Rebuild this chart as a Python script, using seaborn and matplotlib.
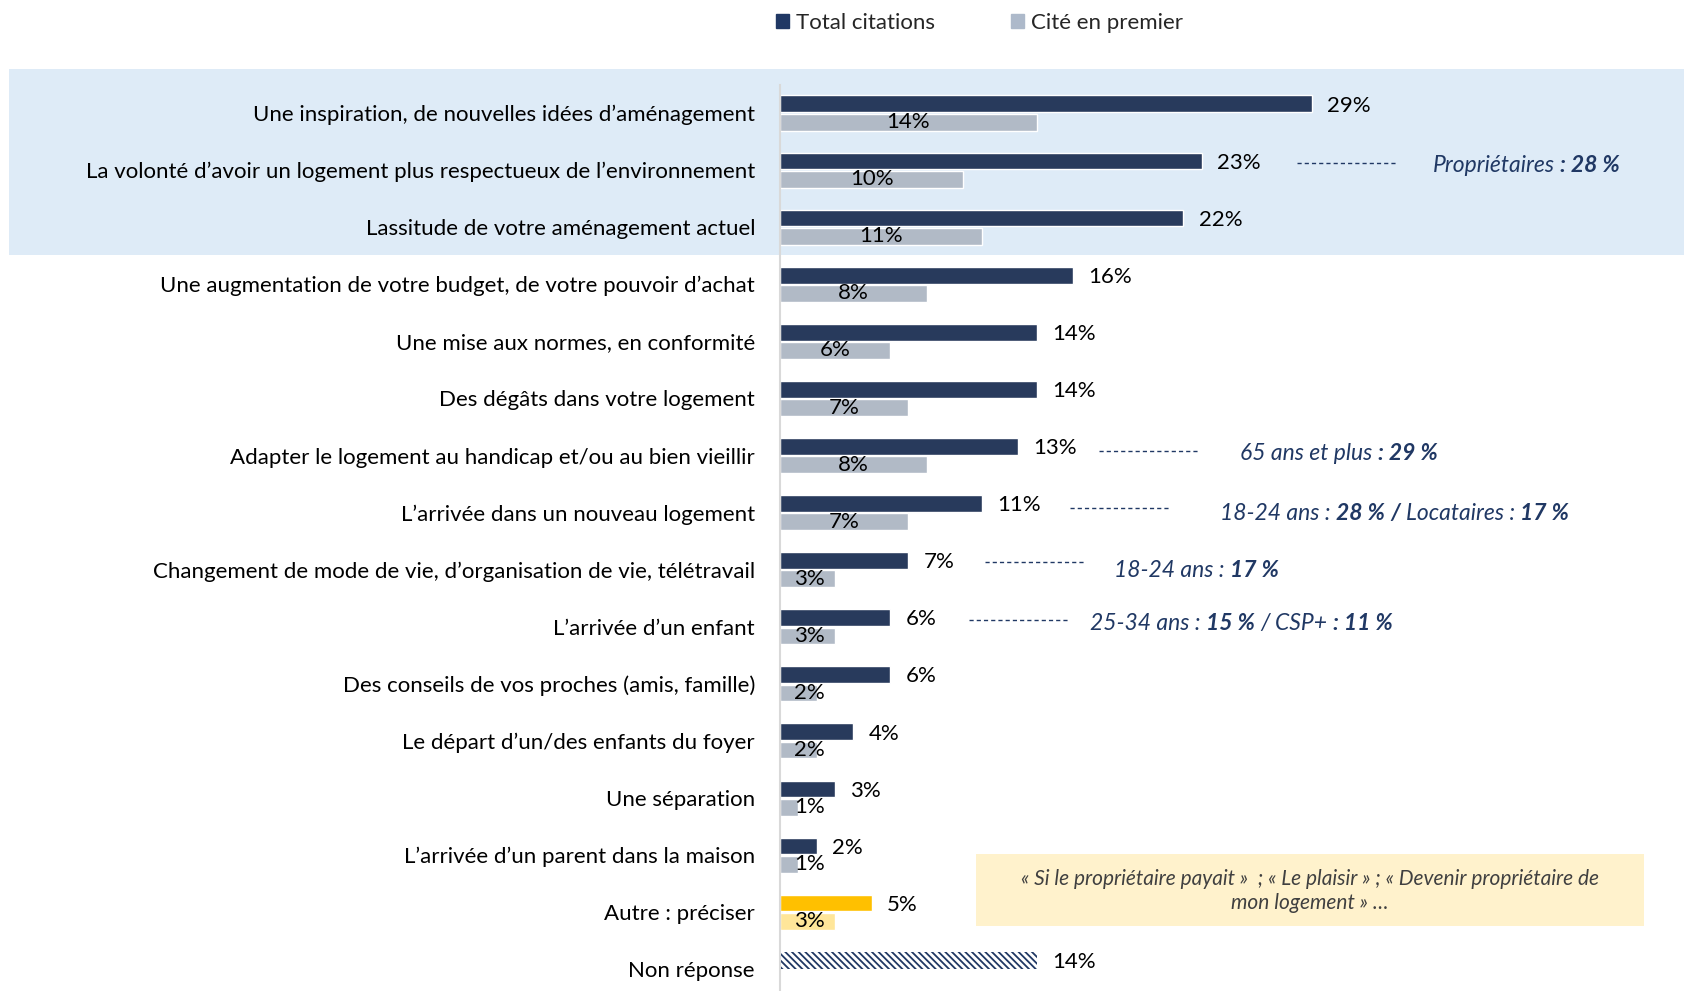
import numpy as np
import pandas as pd
import matplotlib.pyplot as plt
from matplotlib.patches import Rectangle
import seaborn as sns

categories = [
    "Une inspiration, de nouvelles idées d’aménagement",
    "La volonté d’avoir un logement plus respectueux de l’environnement",
    "Lassitude de votre aménagement actuel",
    "Une augmentation de votre budget, de votre pouvoir d’achat",
    "Une mise aux normes, en conformité",
    "Des dégâts dans votre logement",
    "Adapter le logement au handicap et/ou au bien vieillir",
    "L’arrivée dans un nouveau logement",
    "Changement de mode de vie, d’organisation de vie, télétravail",
    "L’arrivée d’un enfant",
    "Des conseils de vos proches (amis, famille)",
    "Le départ d’un/des enfants du foyer",
    "Une séparation",
    "L’arrivée d’un parent dans la maison",
    "Autre : préciser",
    "Non réponse",
]
total = [29, 23, 22, 16, 14, 14, 13, 11, 7, 6, 6, 4, 3, 2, 5, 14]
first = [14, 10, 11, 8, 6, 7, 8, 7, 3, 3, 2, 2, 1, 1, 3, np.nan]
series = ["Total citations", "Cité en premier"]

# sub-group call-outs: row -> list of (text, bold)
callouts = {
    1: [("Propriétaires", False), (": 28 %", True)],
    6: [("65 ans et plus", False), (": 29 %", True)],
    7: [("18-24 ans :", False), ("28 %", True), ("/", True), ("Locataires :", False), ("17 %", True)],
    8: [("18-24 ans :", False), ("17 %", True)],
    9: [("25-34 ans :", False), ("15 %", True), ("/ CSP+", False), (": 11 %", True)],
}
# placement of call-outs (x in %, y offset in rows)
callout_dash_x = {1: 28.2, 6: 17.4, 7: 15.8, 8: 11.2, 9: 10.3}
callout_dash_dy = {1: -0.13, 6: -0.08, 7: -0.08, 8: -0.13, 9: -0.11}
callout_text_x = {1: 35.6, 6: 25.1, 7: 24.0, 8: 18.2, 9: 16.9}
callout_text_dy = {1: -0.08, 6: -0.04, 7: 0.01, 8: 0.01, 9: -0.06}
quote = "« Si le propriétaire payait »  ; « Le plaisir » ; « Devenir propriétaire de\nmon logement » …"

NAVY = "#203864"
GREY = "#ADB9CA"
FS = 16

df = pd.DataFrame({
    "cat": categories * 2,
    "serie": [series[0]] * len(categories) + [series[1]] * len(categories),
    "val": total + first,
}).dropna()

sns.set_theme(style="white")
plt.rcParams["font.family"] = ["Lato", "DejaVu Sans"]
plt.rcParams["hatch.linewidth"] = 1.3

fig = plt.figure(figsize=(16.84, 9.91), dpi=100)
ax = fig.add_axes([780 / 1684, 0, 1 - 780 / 1684, 1 - 85 / 991])
ax.set_facecolor("none")

# highlighted top-3 band
fig.patches.append(Rectangle((9 / 1684, 1 - 255 / 991), 1, (255 - 69) / 991,
                             transform=fig.transFigure, facecolor="#DEEBF7",
                             edgecolor="none", zorder=-5))

sns.barplot(data=df, y="cat", x="val", hue="serie", hue_order=series, order=categories,
            orient="h", palette=[NAVY, GREY], width=0.64, gap=0.08, ax=ax, legend=False)

for k, cont in enumerate(ax.containers):
    for bar in cont:
        w = bar.get_width()
        if np.isnan(w):
            continue
        yc = bar.get_y() + bar.get_height() / 2
        row = int(round(yc))
        if row == 14:
            bar.set_facecolor("#FFC000" if k == 0 else "#FFE699")
        if row == 15 and k == 0:
            bar.set_facecolor("white")
            bar.set_edgecolor(NAVY)
            bar.set_linewidth(0)
            bar.set_hatch("\\" * 5)
        if k == 0:
            ax.annotate(f"{w:.0f}%", (w, yc + 0.03), xytext=(11, 0), textcoords="offset points",
                        ha="left", va="center", fontsize=FS, color="black")
        else:
            ax.text(max(w / 2, 1.6), yc, f"{w:.0f}%", ha="center", va="center",
                    fontsize=FS, color="black")

# call-outs
for row, parts in callouts.items():
    x0 = callout_dash_x[row]
    yd = row + callout_dash_dy[row]
    ax.plot([x0, x0 + 5.4], [yd, yd], color=NAVY, lw=1, ls=(0, (3, 2.2)))
    prev = ax.text(callout_text_x[row], row + callout_text_dy[row], parts[0][0],
                   ha="left", va="center", fontsize=16.5, style="italic", color=NAVY,
                   fontweight="bold" if parts[0][1] else "normal")
    for txt, bold in parts[1:]:
        prev = ax.annotate(txt, xy=(1, 0), xycoords=prev, xytext=(4, 0),
                           textcoords="offset points", ha="left", va="bottom",
                           fontsize=16.5, style="italic", color=NAVY,
                           fontweight="bold" if bold else "normal")

# verbatim box next to "Autre"
ax.add_patch(Rectangle((10.7, 12.98), 36.4, 1.26, facecolor="#FFF2CC", edgecolor="none", zorder=0))
ax.text(28.9, 13.62, quote, ha="center", va="center", fontsize=15, style="italic",
        color="#404040", linespacing=1.25)

ax.set_xlim(0, 49.3)
ax.set_ylim(15.38, -0.49)
ax.set_xlabel("")
ax.set_ylabel("")
ax.set_xticks([])
ax.tick_params(axis="y", length=0, pad=18, labelsize=FS, labelcolor="black")
for side in ["top", "right", "bottom"]:
    ax.spines[side].set_visible(False)
ax.spines["left"].set_color("#D9D9D9")
ax.spines["left"].set_linewidth(1.5)

handles = [Rectangle((0, 0), 1, 1, color=NAVY), Rectangle((0, 0), 1, 1, color=GREY)]
fig.legend(handles, series, loc="center left", bbox_to_anchor=(776 / 1684, 1 - 23 / 991),
           ncol=2, frameon=False, fontsize=FS, handlelength=0.6, handleheight=0.6,
           handletextpad=0.3, columnspacing=3.4, borderaxespad=0, borderpad=0)

fig.savefig("out.png", dpi=100)
